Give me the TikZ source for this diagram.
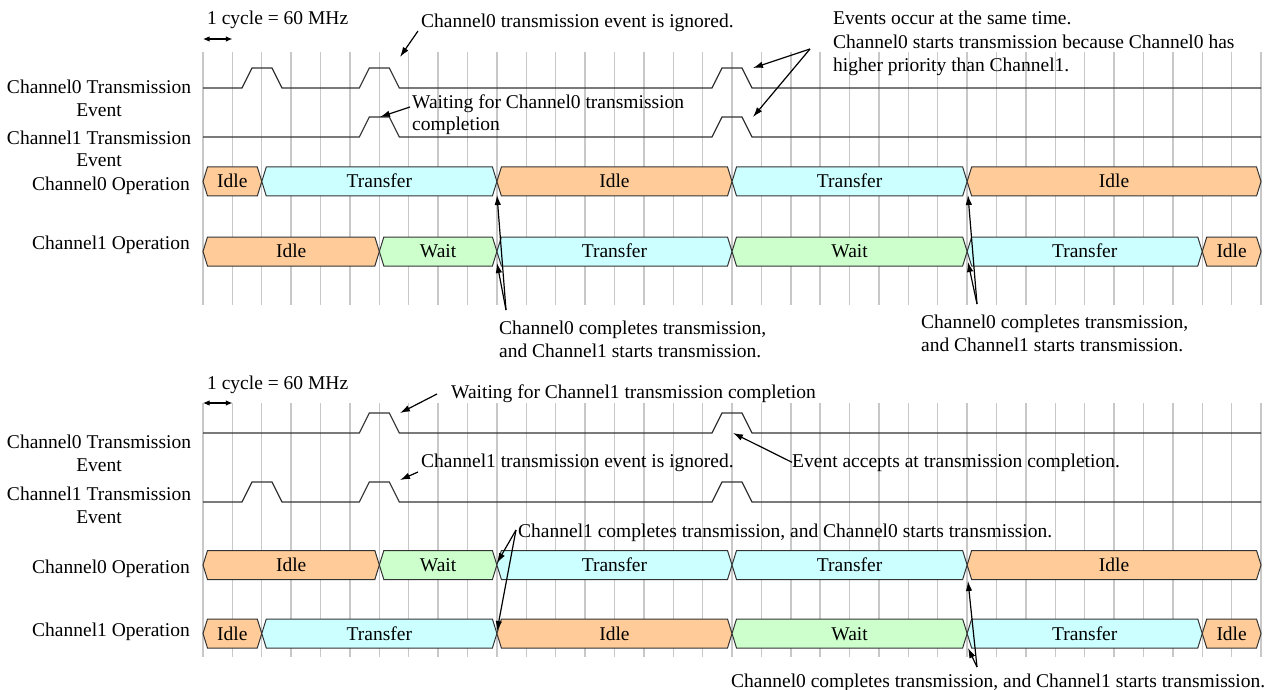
\documentclass[tikz,border=0pt]{standalone}
\usepackage{fontspec}
\setmainfont{Liberation Serif}
\usetikzlibrary{arrows.meta}
\definecolor{idlec}{HTML}{FFCC99}
\definecolor{xferc}{HTML}{CCFFFF}
\definecolor{waitc}{HTML}{CCFFCC}
\definecolor{gridc}{HTML}{C8C8C8}
\definecolor{linec}{HTML}{333333}
\newcommand\txtfont{\fontsize{19.5}{23}\selectfont}
\tikzset{
  txt/.style={inner sep=0pt, anchor=base west, font=\txtfont},
  lbl/.style={inner sep=0pt, anchor=base, font=\txtfont},
  rlbl/.style={inner sep=0pt, anchor=base east, font=\txtfont},
  gridline/.style={draw=gridc, line width=1.4pt},
  sig/.style={draw=linec, line width=1.2pt},
  hexbox/.style={draw=linec, line width=1pt, line join=miter},
  idle/.style={hexbox, fill=idlec},
  xfer/.style={hexbox, fill=xferc},
  waitst/.style={hexbox, fill=waitc},
  arr/.style={draw=black, line width=1.2pt, -{Latex[length=10pt,width=6.5pt]}},
  darr/.style={draw=black, line width=1.1pt, {Latex[length=6.5pt,width=5.5pt]}-{Latex[length=6.5pt,width=5.5pt]}},
}
% #1 name, #2 y centre, #3 first grid index, #4 last grid index, #5 style, #6 label
\newcommand\opseg[6]{%
  \pgfmathsetmacro\segxa{203+#3*29.39}%
  \pgfmathsetmacro\segxb{203+#4*29.39}%
  \draw[#5] (\segxa,#2) -- (\segxa+4.5,#2-14.5) -- (\segxb-4.5,#2-14.5) -- (\segxb,#2)
     -- (\segxb-4.5,#2+14.5) -- (\segxa+4.5,#2+14.5) -- cycle;
  \node[lbl] (#1) at ({(\segxa+\segxb)/2},#2+6.5) {#6};
}
\begin{document}
\begin{tikzpicture}[x=1pt,y=-1pt]
\useasboundingbox (0,0) rectangle (1278,690);

% ---------------- grids ----------------
\foreach \i in {0,...,36} {
  \draw[gridline] ({203+\i*29.39},52) -- ({203+\i*29.39},305);
  \draw[gridline] ({203+\i*29.39},403) -- ({203+\i*29.39},657);
}

% ---------------- top panel signals ----------------
\draw[sig] (203,88) -- (242,88) -- (252,68) -- (272,68) -- (282,88)
  -- (359.3,88) -- (369.3,68) -- (389.3,68) -- (399.3,88)
  -- (712,88) -- (722,68) -- (742,68) -- (752,88) -- (1261,88);
\draw[sig] (203,137) -- (359.3,137) -- (369.3,117) -- (389.3,117) -- (399.3,137)
  -- (712,137) -- (722,117) -- (742,117) -- (752,137) -- (1261,137);

\opseg{ta1}{181.5}{0}{2}{idle}{Idle}
\opseg{ta2}{181.5}{2}{10}{xfer}{Transfer}
\opseg{ta3}{181.5}{10}{18}{idle}{Idle}
\opseg{ta4}{181.5}{18}{26}{xfer}{Transfer}
\opseg{ta5}{181.5}{26}{36}{idle}{Idle}

\opseg{tb1}{251.5}{0}{6}{idle}{Idle}
\opseg{tb2}{251.5}{6}{10}{waitst}{Wait}
\opseg{tb3}{251.5}{10}{18}{xfer}{Transfer}
\opseg{tb4}{251.5}{18}{26}{waitst}{Wait}
\opseg{tb5}{251.5}{26}{34}{xfer}{Transfer}
\opseg{tb6}{251.5}{34}{36}{idle}{Idle}

% left labels top
\node[lbl] (L0a) at (99,94) {Channel0 Transmission};
\node[lbl] (L0b) at (99,116.5) {Event};
\node[lbl] (L1a) at (99,145) {Channel1 Transmission};
\node[lbl] (L1b) at (99,167) {Event};
\node[rlbl] (L2) at (190,190) {Channel0 Operation};
\node[rlbl] (L3) at (190,249) {Channel1 Operation};

% annotations top
\node[txt] (cyc1) at (207,25) {1 cycle = 60 MHz};
\coordinate (cyc1a) at (203,39);
\coordinate (cyc1b) at (232.4,39);
\draw[darr] (cyc1a) -- (cyc1b);

\node[txt] (ign0) at (421,28) {Channel0 transmission event is ignored.};
\coordinate (ign0s) at (418,31);
\coordinate (ign0e) at (400,57);
\draw[arr] (ign0s) -- (ign0e);

\node[txt] (wait0a) at (412,109) {Waiting for Channel0 transmission};
\node[txt] (wait0b) at (412,131) {completion};
\coordinate (wait0s) at (410,107);
\coordinate (wait0e) at (380,117);
\draw[arr] (wait0s) -- (wait0e);

\node[txt] (same1) at (833,25) {Events occur at the same time.};
\node[txt] (same2) at (833,48.5) {Channel0 starts transmission because Channel0 has};
\node[txt] (same3) at (833,72) {higher priority than Channel1.};
\coordinate (sameS) at (810,49);
\coordinate (sameE1) at (753,68);
\coordinate (sameE2) at (753,117);
\draw[arr] (sameS) -- (sameE1);
\draw[arr] (sameS) -- (sameE2);

\node[txt] (cmp1a) at (499,334) {Channel0 completes transmission,};
\node[txt] (cmp1b) at (499,357) {and Channel1 starts transmission.};
\coordinate (cmp1S) at (506,310);
\coordinate (cmp1E1) at (497,195);
\coordinate (cmp1E2) at (497,263);
\draw[arr] (cmp1S) -- (cmp1E1);
\draw[arr] (cmp1S) -- (cmp1E2);

\node[txt] (cmp2a) at (921,328) {Channel0 completes transmission,};
\node[txt] (cmp2b) at (921,351) {and Channel1 starts transmission.};
\coordinate (cmp2S) at (977,304);
\coordinate (cmp2E1) at (968,195);
\coordinate (cmp2E2) at (968,262);
\draw[arr] (cmp2S) -- (cmp2E1);
\draw[arr] (cmp2S) -- (cmp2E2);

% ---------------- bottom panel signals ----------------
\draw[sig] (203,433) -- (359.3,433) -- (369.3,413) -- (389.3,413) -- (399.3,433)
  -- (712,433) -- (722,413) -- (742,413) -- (752,433) -- (1261,433);
\draw[sig] (203,502) -- (242,502) -- (252,482) -- (272,482) -- (282,502)
  -- (359.3,502) -- (369.3,482) -- (389.3,482) -- (399.3,502)
  -- (712,502) -- (722,482) -- (742,482) -- (752,502) -- (1261,502);

\opseg{ba1}{565}{0}{6}{idle}{Idle}
\opseg{ba2}{565}{6}{10}{waitst}{Wait}
\opseg{ba3}{565}{10}{18}{xfer}{Transfer}
\opseg{ba4}{565}{18}{26}{xfer}{Transfer}
\opseg{ba5}{565}{26}{36}{idle}{Idle}

\opseg{bb1}{633.5}{0}{2}{idle}{Idle}
\opseg{bb2}{633.5}{2}{10}{xfer}{Transfer}
\opseg{bb3}{633.5}{10}{18}{idle}{Idle}
\opseg{bb4}{633.5}{18}{26}{waitst}{Wait}
\opseg{bb5}{633.5}{26}{34}{xfer}{Transfer}
\opseg{bb6}{633.5}{34}{36}{idle}{Idle}

% left labels bottom
\node[lbl] (M0a) at (99,448) {Channel0 Transmission};
\node[lbl] (M0b) at (99,471) {Event};
\node[lbl] (M1a) at (99,500) {Channel1 Transmission};
\node[lbl] (M1b) at (99,523) {Event};
\node[rlbl] (M2) at (190,573) {Channel0 Operation};
\node[rlbl] (M3) at (190,636) {Channel1 Operation};

% annotations bottom
\node[txt] (cyc2) at (207,389) {1 cycle = 60 MHz};
\coordinate (cyc2a) at (203,403);
\coordinate (cyc2b) at (232.4,403);
\draw[darr] (cyc2a) -- (cyc2b);

\node[txt] (wait1) at (451,398) {Waiting for Channel1 transmission completion};
\coordinate (wait1s) at (437,394);
\coordinate (wait1e) at (400,413);
\draw[arr] (wait1s) -- (wait1e);

\node[txt] (ign1) at (421,467) {Channel1 transmission event is ignored.};
\coordinate (ign1s) at (418,472);
\coordinate (ign1e) at (400,480);
\draw[arr] (ign1s) -- (ign1e);

\node[txt] (acc) at (792,467) {Event accepts at transmission completion.};
\coordinate (accE) at (733,433);
\draw[arr] (acc.west) -- (accE);

\node[txt] (cmp3) at (518,537) {Channel1 completes transmission, and Channel0 starts transmission.};
\coordinate (cmp3S) at (516,530);
\coordinate (cmp3E1) at (497,563);
\coordinate (cmp3E2) at (497,631);
\draw[arr] (cmp3S) -- (cmp3E1);
\draw[arr] (cmp3S) -- (cmp3E2);

\node[txt] (cmp4) at (731,687) {Channel0 completes transmission, and Channel1 starts transmission.};
\coordinate (cmp4S) at (977,667);
\coordinate (cmp4E1) at (968,581);
\coordinate (cmp4E2) at (968,648);
\draw[arr] (cmp4S) -- (cmp4E1);
\draw[arr] (cmp4S) -- (cmp4E2);
\end{tikzpicture}
\end{document}
